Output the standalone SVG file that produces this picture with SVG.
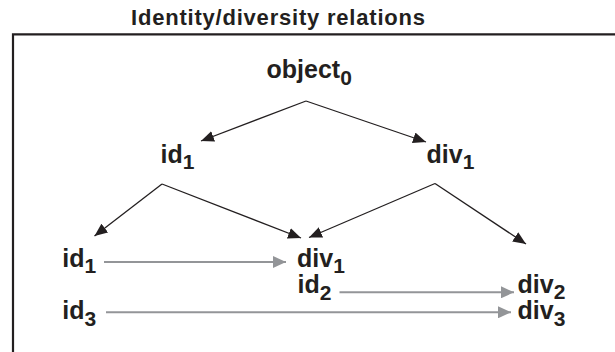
<svg xmlns="http://www.w3.org/2000/svg" width="615" height="352" viewBox="0 0 615 352">
<style>
text{font-family:"Liberation Sans",Arial,Helvetica,sans-serif;font-weight:bold;fill:#231f20}
.lbl{font-size:25px}
.sub{font-size:21px}
.title{font-size:22px}
.blk{stroke:#231f20;stroke-width:1.3;fill:none}
.gry{stroke:#939598;stroke-width:2;fill:none}
</style>
<defs>
<marker id="ab" markerUnits="userSpaceOnUse" markerWidth="13" markerHeight="11" refX="13" refY="5.5" orient="auto"><path d="M0,0 L13,5.5 L0,11 Z" fill="#231f20"/></marker>
<marker id="ag" markerUnits="userSpaceOnUse" markerWidth="13" markerHeight="12" refX="13" refY="6" orient="auto"><path d="M0,0 L13,6 L0,12 Z" fill="#939598"/></marker>
</defs>
<rect width="615" height="352" fill="#ffffff"/>
<g id="title"><text class="title" x="131" y="25" textLength="294" lengthAdjust="spacing">Identity/diversity relations</text></g>
<g id="frame"><path d="M13,352 V34.3 H615" stroke="#231f20" stroke-width="2.2" fill="none"/></g>
<g id="connectors">
<line class="blk" x1="306" y1="101" x2="201" y2="141" marker-end="url(#ab)"/>
<line class="blk" x1="306" y1="101" x2="426" y2="142" marker-end="url(#ab)"/>
<line class="blk" x1="162" y1="184" x2="94.5" y2="236" marker-end="url(#ab)"/>
<line class="blk" x1="162" y1="184" x2="301" y2="238" marker-end="url(#ab)"/>
<line class="blk" x1="435" y1="183.5" x2="309" y2="237.5" marker-end="url(#ab)"/>
<line class="blk" x1="435" y1="183.5" x2="526" y2="244" marker-end="url(#ab)"/>
<line class="gry" x1="104" y1="262" x2="286" y2="262" marker-end="url(#ag)"/>
<line class="gry" x1="339.5" y1="292.3" x2="514" y2="292.3" marker-end="url(#ag)"/>
<line class="gry" x1="106" y1="312.3" x2="511" y2="312.3" marker-end="url(#ag)"/>
</g>
<g id="object0"><text class="lbl" x="266.5" y="78">object<tspan class="sub" dy="6.5">0</tspan></text></g>
<g id="id1_top"><text class="lbl" x="160.5" y="162.5">id<tspan class="sub" dy="6.5">1</tspan></text></g>
<g id="div1_top"><text class="lbl" x="426.5" y="162.7">div<tspan class="sub" dy="6.5">1</tspan></text></g>
<g id="id1"><text class="lbl" x="62.3" y="266.7">id<tspan class="sub" dy="6.5">1</tspan></text></g>
<g id="div1"><text class="lbl" x="297" y="266.7">div<tspan class="sub" dy="6.5">1</tspan></text></g>
<g id="id2"><text class="lbl" x="297.5" y="293.3">id<tspan class="sub" dy="6.5">2</tspan></text></g>
<g id="div2"><text class="lbl" x="517.5" y="292.7">div<tspan class="sub" dy="6.5">2</tspan></text></g>
<g id="id3"><text class="lbl" x="62.3" y="319.3">id<tspan class="sub" dy="6.5">3</tspan></text></g>
<g id="div3"><text class="lbl" x="517.5" y="319.3">div<tspan class="sub" dy="6.5">3</tspan></text></g>
</svg>
